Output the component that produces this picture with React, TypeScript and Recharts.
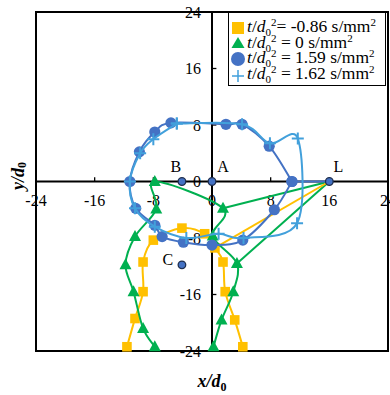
import React from 'react';
import { ScatterChart, Scatter, XAxis, YAxis, ReferenceLine, ReferenceArea, ReferenceDot, Legend } from 'recharts';

type Pt = { x: number; y: number };
type RefPt = { name: string; x: number; y: number };

// axis ticks (both axes share the same values)
const axisTicks = [-24, -16, -8, 0, 8, 16, 24];
const tickLabels = ['-24', '-16', '-8', '0', '8', '16', '24'];

// legend values, in series order
const legendValues = ['= -0.86', ' = 0', ' = 1.59', ' = 1.62'];

// t/d0^2 = -0.86 s/mm2
const orangeData: Pt[] = [
  { x: -11.6, y: -23.4 }, { x: -10.5, y: -19.4 }, { x: -9.4, y: -15.6 }, { x: -9.4, y: -11.4 },
  { x: -8.0, y: -8.3 }, { x: -4.1, y: -6.6 }, { x: -1.0, y: -7.4 }, { x: 0.4, y: -9.4 },
  { x: 1.5, y: -11.4 }, { x: 1.8, y: -15.6 }, { x: 3.1, y: -19.6 }, { x: 4.2, y: -23.4 },
];

// t/d0^2 = 0 s/mm2
const greenData: Pt[] = [
  { x: -7.8, y: -23.4 }, { x: -9.4, y: -20.8 }, { x: -10.7, y: -15.6 }, { x: -11.8, y: -11.8 },
  { x: -10.5, y: -7.8 }, { x: -7.6, y: -3.9 }, { x: -7.8, y: 0 }, { x: 1.5, y: -3.8 },
  { x: 0.1, y: -7.7 }, { x: 3.4, y: -11.6 }, { x: 2.9, y: -15.6 }, { x: 1.3, y: -19.6 },
  { x: 0.2, y: -23.4 },
];

// t/d0^2 = 1.59 s/mm2
const blueData: Pt[] = [
  { x: 10.9, y: 0 }, { x: 7.8, y: 5.0 }, { x: 4.1, y: 8.1 }, { x: 1.9, y: 8.1 },
  { x: -5.6, y: 8.3 }, { x: -7.8, y: 7.0 }, { x: -9.9, y: 4.2 }, { x: -11.2, y: 0 },
  { x: -10.4, y: -3.8 }, { x: -7.8, y: -6.2 }, { x: -6.8, y: -7.8 }, { x: -3.9, y: -8.6 },
  { x: 0, y: -9.0 }, { x: 4.2, y: -8.3 }, { x: 8.5, y: -4.0 }, { x: 10.9, y: 0 },
];

// t/d0^2 = 1.62 s/mm2
const lightData: Pt[] = [
  { x: -4.8, y: 8.2 }, { x: -8.0, y: 6.0 }, { x: -9.8, y: 4.0 }, { x: -11.2, y: 0 },
  { x: -10.5, y: -3.8 }, { x: -7.8, y: -6.4 }, { x: -3.5, y: -8.0 }, { x: 0.9, y: -7.4 },
  { x: 4.3, y: -8.0 }, { x: 11.6, y: -5.9 }, { x: 11.7, y: 6.1 }, { x: 7.9, y: 5.4 },
  { x: 4.1, y: 8.1 }, { x: -4.8, y: 8.2 },
];

// straight rays from L
const orangeRay: Pt[] = [{ x: 16, y: 0 }, { x: 0.4, y: -9.4 }];
const greenRayA: Pt[] = [{ x: 16, y: 0 }, { x: 1.5, y: -3.8 }];
const greenRayB: Pt[] = [{ x: 16, y: 0 }, { x: 3.4, y: -11.6 }];
const blueRay: Pt[] = [{ x: 16, y: 0 }, { x: 10.9, y: 0 }];

// marked reference points
const refPoints: RefPt[] = [
  { name: 'A', x: 0, y: 0 },
  { name: 'B', x: -4.1, y: 0 },
  { name: 'C', x: -4.1, y: -11.8 },
  { name: 'L', x: 16, y: 0 },
];

const ORANGE = '#FFC000';
const GREEN = '#00B050';
const BLUE = '#4472C4';
const LIGHT = '#42A0DB';
const SERIF = '"Liberation Serif", "Times New Roman", serif';

const refLabelOffset: Record<string, [number, number]> = {
  A: [11, -15],
  B: [-6, -15],
  C: [-14, -5],
  L: [9, -15],
};

// Excel-like smoothed line (Catmull-Rom style bezier)
const excelSmooth: any = (context: any) => {
  let pts: number[][] = [];
  return {
    areaStart() {},
    areaEnd() {},
    lineStart() {
      pts = [];
    },
    point(x: number, y: number) {
      pts.push([+x, +y]);
    },
    lineEnd() {
      const n = pts.length;
      if (!n) return;
      context.moveTo(pts[0][0], pts[0][1]);
      for (let i = 0; i < n - 1; i++) {
        const p0 = pts[Math.max(i - 1, 0)];
        const p1 = pts[i];
        const p2 = pts[i + 1];
        const p3 = pts[Math.min(i + 2, n - 1)];
        context.bezierCurveTo(
          p1[0] + (p2[0] - p0[0]) / 6,
          p1[1] + (p2[1] - p0[1]) / 6,
          p2[0] - (p3[0] - p1[0]) / 6,
          p2[1] - (p3[1] - p1[1]) / 6,
          p2[0],
          p2[1]
        );
      }
    },
  };
};

const SquareDot = (p: any) => (
  <rect x={p.cx - 4.8} y={p.cy - 4.8} width={9.6} height={9.6} fill={ORANGE} />
);
const TriDot = (p: any) => (
  <path d={`M${p.cx},${p.cy - 6.5}L${p.cx + 6},${p.cy + 4.5}L${p.cx - 6},${p.cy + 4.5}Z`} fill={GREEN} />
);
const CircleDot = (p: any) => <circle cx={p.cx} cy={p.cy} r={5.6} fill={BLUE} />;
const PlusDot = (p: any) => (
  <path
    d={`M${p.cx - 6},${p.cy}H${p.cx + 6}M${p.cx},${p.cy - 6}V${p.cy + 6}`}
    stroke={LIGHT}
    strokeWidth={2}
    fill="none"
  />
);
const NoDot = () => <g />;

const RefDot = (p: any) => {
  const name = p.payload?.name ?? '';
  const [dx, dy] = refLabelOffset[name] || [0, 0];
  return (
    <g>
      <circle cx={p.cx} cy={p.cy} r={3.8} fill={BLUE} stroke="#1F2F4F" strokeWidth={1.3} />
      <text
        x={p.cx + dx}
        y={p.cy + dy}
        textAnchor="middle"
        dominantBaseline="central"
        style={{ fontFamily: SERIF, fontSize: 16 }}
        fill="#000"
      >
        {name}
      </text>
    </g>
  );
};

const legendIcon = (i: number) => {
  if (i === 0) return <rect x={2} y={2} width={12} height={12} fill={ORANGE} />;
  if (i === 1) return <path d="M8,2L14.5,13L1.5,13Z" fill={GREEN} />;
  if (i === 2) return <circle cx={8} cy={8} r={7} fill={BLUE} />;
  return <path d="M2,9H14M8,3V15" stroke={LIGHT} strokeWidth={1.5} />;
};

const small = (top: number) => ({ fontSize: 11, position: 'relative' as const, top });

const renderLegend = () => (
  <div
    style={{
      border: '1.5px solid #000',
      background: '#fff',
      width: 158,
      height: 74,
      boxSizing: 'border-box',
      padding: '7px 0 0 1px',
      fontFamily: SERIF,
      fontSize: 17.5,
      lineHeight: '15.6px',
      color: '#000',
    }}
  >
    {legendValues.map((v, i) => (
      <div key={v} style={{ display: 'flex', alignItems: 'center', height: 15.6, whiteSpace: 'nowrap' }}>
        <svg width={17} height={16} style={{ flex: 'none' }}>
          {legendIcon(i)}
        </svg>
        <span>
          <i>t</i>/<i>d</i>
          <span style={small(4)}>0</span>
          <span style={small(-6)}>2</span>
          {v} s/mm<span style={small(-6)}>2</span>
        </span>
      </div>
    ))}
  </div>
);

const XTitle = (p: any) => {
  const vb = p.viewBox;
  return (
    <text
      x={vb.x + vb.width / 2}
      y={vb.y + 36}
      textAnchor="middle"
      style={{ fontFamily: SERIF, fontSize: 18, fontWeight: 'bold' }}
      fill="#000"
    >
      <tspan fontStyle="italic">x/d</tspan>
      <tspan fontSize={12} dy={4}>0</tspan>
    </text>
  );
};

const YTitle = () => {
  const cx = 18;
  const cy = 176;
  return (
    <text
      x={cx}
      y={cy}
      transform={`rotate(-90, ${cx}, ${cy})`}
      textAnchor="middle"
      dominantBaseline="central"
      style={{ fontFamily: SERIF, fontSize: 18, fontWeight: 'bold' }}
      fill="#000"
    >
      <tspan fontStyle="italic">y/d</tspan>
      <tspan fontSize={12} dy={4}>0</tspan>
    </text>
  );
};

const tickText = (label: string, dx: number, dy: number, anchor: string) => (p: any) => (
  <text
    x={p.viewBox.x + dx}
    y={p.viewBox.y + dy}
    textAnchor={anchor}
    dominantBaseline="central"
    style={{ fontFamily: SERIF, fontSize: 16 }}
    fill="#000"
  >
    {label}
  </text>
);

const innerTicks = axisTicks.filter((t) => t !== 0 && Math.abs(t) !== 24);

export default function App() {
  return (
    <div style={{ position: 'fixed', left: 0, top: 0, width: 390, height: 395, background: '#fff' }}>
      <ScatterChart width={390} height={395} margin={{ top: 12, right: 2, bottom: 0, left: 0 }}>
        <XAxis
          type="number"
          dataKey="x"
          domain={[-24, 24]}
          ticks={axisTicks}
          tick={false}
          tickLine={false}
          axisLine={false}
          height={44}
          label={XTitle}
        />
        <YAxis
          type="number"
          dataKey="y"
          domain={[-24, 24]}
          ticks={axisTicks}
          tick={false}
          tickLine={false}
          axisLine={false}
          width={36}
          label={YTitle}
        />
        <ReferenceArea x1={-24} x2={24} y1={-24} y2={24} fill="none" fillOpacity={0} stroke="#000" strokeWidth={2} />
        <ReferenceLine x={0} stroke="#000" strokeWidth={2} />
        <ReferenceLine y={0} stroke="#000" strokeWidth={2} />
        {innerTicks.map((t) => (
          <ReferenceLine
            key={'xt' + t}
            segment={[{ x: t, y: 0 }, { x: t, y: 0.6 }]}
            stroke="#000"
            strokeWidth={1.3}
          />
        ))}
        {innerTicks.map((t) => (
          <ReferenceLine
            key={'yt' + t}
            segment={[{ x: 0, y: t }, { x: 0.6, y: t }]}
            stroke="#000"
            strokeWidth={1.3}
          />
        ))}
        {axisTicks.map((t, i) => (
          <ReferenceDot
            key={'xl' + t}
            x={t}
            y={0}
            r={0}
            ifOverflow="visible"
            label={tickText(tickLabels[i], 0, 19, 'middle')}
          />
        ))}
        {axisTicks.map((t, i) => (
          <ReferenceDot
            key={'yl' + t}
            x={0}
            y={t}
            r={0}
            ifOverflow="visible"
            label={tickText(tickLabels[i], -11, 0, 'end')}
          />
        ))}
        <Legend
          layout="horizontal"
          verticalAlign="middle"
          align="center"
          content={renderLegend}
          wrapperStyle={{ left: 228, top: 12, width: 158 }}
        />

        <Scatter data={greenRayA} shape={NoDot} line={{ stroke: GREEN, strokeWidth: 2 }} lineType="joint" isAnimationActive={false} legendType="none" />
        <Scatter data={greenRayB} shape={NoDot} line={{ stroke: GREEN, strokeWidth: 2 }} lineType="joint" isAnimationActive={false} legendType="none" />
        <Scatter data={orangeRay} shape={NoDot} line={{ stroke: ORANGE, strokeWidth: 2 }} lineType="joint" isAnimationActive={false} legendType="none" />
        <Scatter data={blueRay} shape={NoDot} line={{ stroke: BLUE, strokeWidth: 2 }} lineType="joint" isAnimationActive={false} legendType="none" />

        <Scatter
          data={orangeData}
          shape={SquareDot}
          line={{ stroke: ORANGE, strokeWidth: 2 }}
          lineType="joint"
          lineJointType={excelSmooth}
          isAnimationActive={false}
        />
        <Scatter
          data={greenData}
          shape={TriDot}
          line={{ stroke: GREEN, strokeWidth: 2 }}
          lineType="joint"
          lineJointType={excelSmooth}
          isAnimationActive={false}
        />
        <Scatter
          data={blueData}
          shape={CircleDot}
          line={{ stroke: BLUE, strokeWidth: 2 }}
          lineType="joint"
          lineJointType={excelSmooth}
          isAnimationActive={false}
        />
        <Scatter
          data={lightData}
          shape={PlusDot}
          line={{ stroke: LIGHT, strokeWidth: 2 }}
          lineType="joint"
          lineJointType={excelSmooth}
          isAnimationActive={false}
        />
        <Scatter data={refPoints} shape={RefDot} isAnimationActive={false} legendType="none" />
      </ScatterChart>
    </div>
  );
}
